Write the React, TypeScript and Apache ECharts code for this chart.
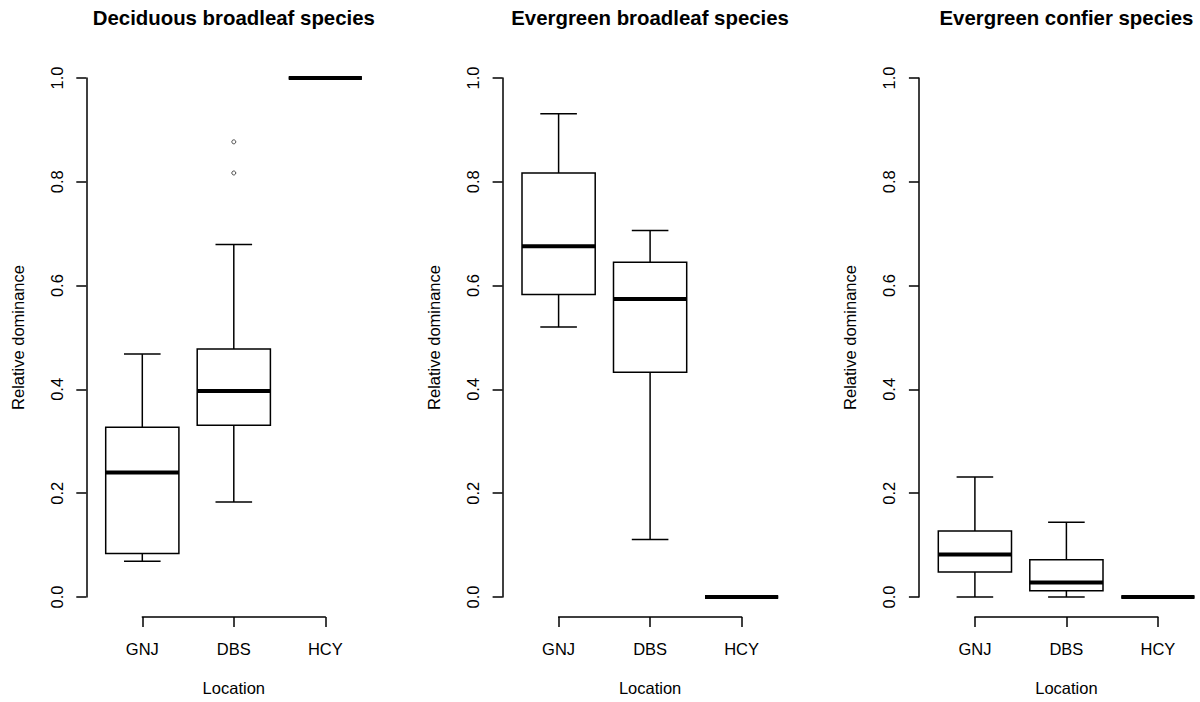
import React, { useEffect, useRef } from 'react';
import * as echarts from 'echarts';

const locations = ['GNJ', 'DBS', 'HCY'];
const panelTitles = [
  'Deciduous broadleaf species',
  'Evergreen broadleaf species',
  'Evergreen confier species',
];
const yAxisName = 'Relative dominance';
const xAxisName = 'Location';
const yTicks = [0, 0.2, 0.4, 0.6, 0.8, 1.0];

// Each row: [lower whisker, Q1, median, Q3, upper whisker], one row per location
const deciduousStats = [
  [0.069, 0.084, 0.240, 0.327, 0.468],
  [0.183, 0.331, 0.397, 0.478, 0.679],
  [1.0, 1.0, 1.0, 1.0, 1.0],
];
const deciduousOutliers = [
  [1, 0.877],
  [1, 0.817],
];
const evergreenBroadleafStats = [
  [0.520, 0.583, 0.676, 0.817, 0.931],
  [0.111, 0.433, 0.574, 0.645, 0.706],
  [0, 0, 0, 0, 0],
];
const evergreenBroadleafOutliers: number[][] = [];
const evergreenConiferStats = [
  [0, 0.048, 0.082, 0.127, 0.231],
  [0, 0.012, 0.028, 0.072, 0.144],
  [0, 0, 0, 0, 0],
];
const evergreenConiferOutliers: number[][] = [];

const panelStats = [deciduousStats, evergreenBroadleafStats, evergreenConiferStats];
const panelOutliers = [deciduousOutliers, evergreenBroadleafOutliers, evergreenConiferOutliers];

const FONT = '"Liberation Sans", Arial, sans-serif';
const INK = '#000';
const LABEL_SIZE = 16.5;
const TITLE_SIZE = 20.4;

export default function App() {
  const ref = useRef<HTMLDivElement>(null);

  useEffect(() => {
    if (!ref.current) return;
    const chart = echarts.init(ref.current, null, { renderer: 'svg' });

    const panelStep = 416.3;
    const gridLeft0 = 142.3;
    const gridWidth = 183;
    const gridTop = 78;
    const gridHeight = 519;

    const grids: any[] = [];
    const xAxes: any[] = [];
    const yAxes: any[] = [];
    const titles: any[] = [];
    const series: any[] = [];

    panelTitles.forEach((t, i) => {
      const left = gridLeft0 + panelStep * i;
      grids.push({ left, top: gridTop, width: gridWidth, height: gridHeight, containLabel: false });
      titles.push({
        text: t,
        left: left + gridWidth / 2,
        top: 8,
        textAlign: 'center',
        padding: 0,
        textStyle: { fontFamily: FONT, fontSize: TITLE_SIZE, fontWeight: 'bold', color: INK },
      });
      xAxes.push({
        type: 'category',
        gridIndex: i,
        data: locations,
        boundaryGap: false,
        offset: 20,
        name: xAxisName,
        nameLocation: 'middle',
        nameGap: 62,
        nameTextStyle: { fontFamily: FONT, fontSize: LABEL_SIZE, color: INK },
        axisLine: { show: true, onZero: false, lineStyle: { color: INK, width: 1.5 } },
        axisTick: { show: true, length: 10, alignWithLabel: true, lineStyle: { color: INK, width: 1.5 } },
        axisLabel: { margin: 23, fontFamily: FONT, fontSize: LABEL_SIZE, color: INK },
        splitLine: { show: false },
      });
      yAxes.push({
        type: 'value',
        gridIndex: i,
        min: yTicks[0],
        max: yTicks[yTicks.length - 1],
        interval: 0.2,
        offset: 56,
        name: yAxisName,
        nameLocation: 'middle',
        nameGap: 60,
        nameTextStyle: { fontFamily: FONT, fontSize: LABEL_SIZE, color: INK },
        axisLine: { show: true, onZero: false, lineStyle: { color: INK, width: 1.5 } },
        axisTick: { show: true, length: 10, lineStyle: { color: INK, width: 1.5 } },
        axisLabel: {
          rotate: 90,
          margin: 21,
          fontFamily: FONT,
          fontSize: LABEL_SIZE,
          color: INK,
          formatter: (v: number) => v.toFixed(1),
        },
        splitLine: { show: false },
      });

      series.push({
        type: 'custom',
        xAxisIndex: i,
        yAxisIndex: i,
        clip: false,
        encode: { x: 0, y: [1, 2, 3, 4, 5] },
        data: panelStats[i].map((s, k) => [k, ...s]),
        renderItem: (params: any, api: any) => {
          const x = api.value(0);
          const lo = api.coord([x, api.value(1)]);
          const q1 = api.coord([x, api.value(2)]);
          const med = api.coord([x, api.value(3)]);
          const q3 = api.coord([x, api.value(4)]);
          const hi = api.coord([x, api.value(5)]);
          const bw = api.size([1, 0])[0] * 0.8;
          const half = bw / 2;
          const st = bw / 4;
          const cx = med[0];
          const ls = { stroke: INK, lineWidth: 1.5, fill: null };
          return {
            type: 'group',
            children: [
              { type: 'line', shape: { x1: cx, y1: q3[1], x2: cx, y2: hi[1] }, style: ls },
              { type: 'line', shape: { x1: cx, y1: q1[1], x2: cx, y2: lo[1] }, style: ls },
              { type: 'line', shape: { x1: cx - st, y1: hi[1], x2: cx + st, y2: hi[1] }, style: ls },
              { type: 'line', shape: { x1: cx - st, y1: lo[1], x2: cx + st, y2: lo[1] }, style: ls },
              {
                type: 'rect',
                shape: { x: cx - half, y: q3[1], width: bw, height: q1[1] - q3[1] },
                style: { stroke: INK, lineWidth: 1.5, fill: '#fff' },
              },
              {
                type: 'line',
                shape: { x1: cx - half, y1: med[1], x2: cx + half, y2: med[1] },
                style: { stroke: INK, lineWidth: 4, lineCap: 'butt' },
              },
            ],
          };
        },
      });

      if (panelOutliers[i].length) {
        series.push({
          type: 'scatter',
          xAxisIndex: i,
          yAxisIndex: i,
          symbol: 'circle',
          symbolSize: 4,
          data: panelOutliers[i],
          itemStyle: { color: 'transparent', borderColor: '#222', borderWidth: 1 },
        });
      }
    });

    chart.setOption({
      animation: false,
      backgroundColor: '#fff',
      title: titles,
      grid: grids,
      xAxis: xAxes,
      yAxis: yAxes,
      series,
    });

    return () => chart.dispose();
  }, []);

  return (
    <div
      ref={ref}
      style={{ position: 'absolute', left: 0, top: 0, width: 1200, height: 702, background: '#fff' }}
    />
  );
}
